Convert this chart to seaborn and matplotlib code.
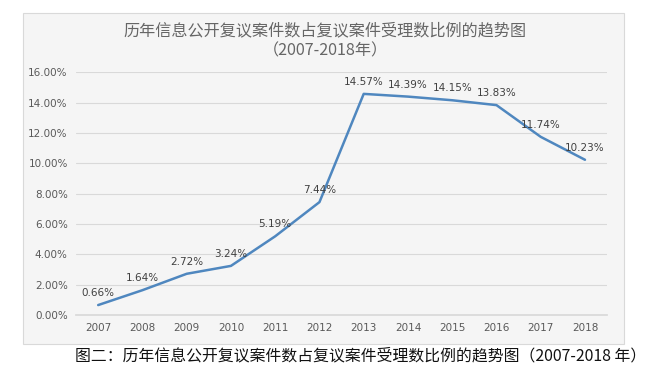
import matplotlib
matplotlib.use("Agg")
import matplotlib.pyplot as plt
import seaborn as sns
import pandas as pd
from matplotlib.patches import Rectangle
from matplotlib.ticker import FuncFormatter

years = ["2007", "2008", "2009", "2010", "2011", "2012",
         "2013", "2014", "2015", "2016", "2017", "2018"]
ratio = [0.66, 1.64, 2.72, 3.24, 5.19, 7.44,
         14.57, 14.39, 14.15, 13.83, 11.74, 10.23]
title = "历年信息公开复议案件数占复议案件受理数比例的趋势图\n（2007-2018年）"
caption = "图二：历年信息公开复议案件数占复议案件受理数比例的趋势图（2007-2018 年）"

sns.set_theme(style="whitegrid")
plt.rcParams["font.family"] = ["DejaVu Sans", "Noto Sans CJK SC"]

df = pd.DataFrame({"year": years, "ratio": ratio})

fig = plt.figure(figsize=(6.5, 3.72), dpi=100)
fig.patch.set_facecolor("white")

# chart frame drawn in a background axes
bg = fig.add_axes([0, 0, 1, 1], zorder=-5)
bg.set_axis_off()
bg.add_patch(Rectangle((0.035, 0.075), 0.925, 0.89, transform=fig.transFigure,
                       facecolor="#f5f5f5", edgecolor="#d9d9d9", lw=0.8))

ax = fig.add_axes([0.117, 0.153, 0.817, 0.653])
ax.set_facecolor("#f5f5f5")
sns.lineplot(data=df, x="year", y="ratio", ax=ax, color="#4f87bf", linewidth=1.8, sort=False)

for i, v in enumerate(ratio):
    ax.annotate(f"{v:.2f}%", (i, v), xytext=(0, 5), textcoords="offset points",
                ha="center", va="bottom", fontsize=7.5, color="#404040")

ax.set_xlim(-0.5, len(years) - 0.5)
ax.set_ylim(0, 16)
ax.set_yticks(range(0, 17, 2))
ax.yaxis.set_major_formatter(FuncFormatter(lambda v, p: f"{v:.2f}%"))
ax.set_xlabel("")
ax.set_ylabel("")
ax.tick_params(axis="both", labelsize=7.5, labelcolor="#595959", length=0, pad=6)
ax.grid(axis="x", visible=False)
ax.grid(axis="y", color="#d9d9d9", linewidth=0.8)
for s in ["top", "right", "left"]:
    ax.spines[s].set_visible(False)
ax.spines["bottom"].set_color("#d9d9d9")

fig.text(0.5, 0.89, title, ha="center", va="center", fontsize=11.6, color="#666666",
         family=["Noto Sans CJK SC", "DejaVu Sans"], linespacing=1.3)
fig.text(0.115, 0.042, caption, ha="left", va="center", fontsize=11.4, color="#111111",
         family=["Noto Sans CJK SC", "DejaVu Sans"])

fig.savefig("out.png", dpi=100)
